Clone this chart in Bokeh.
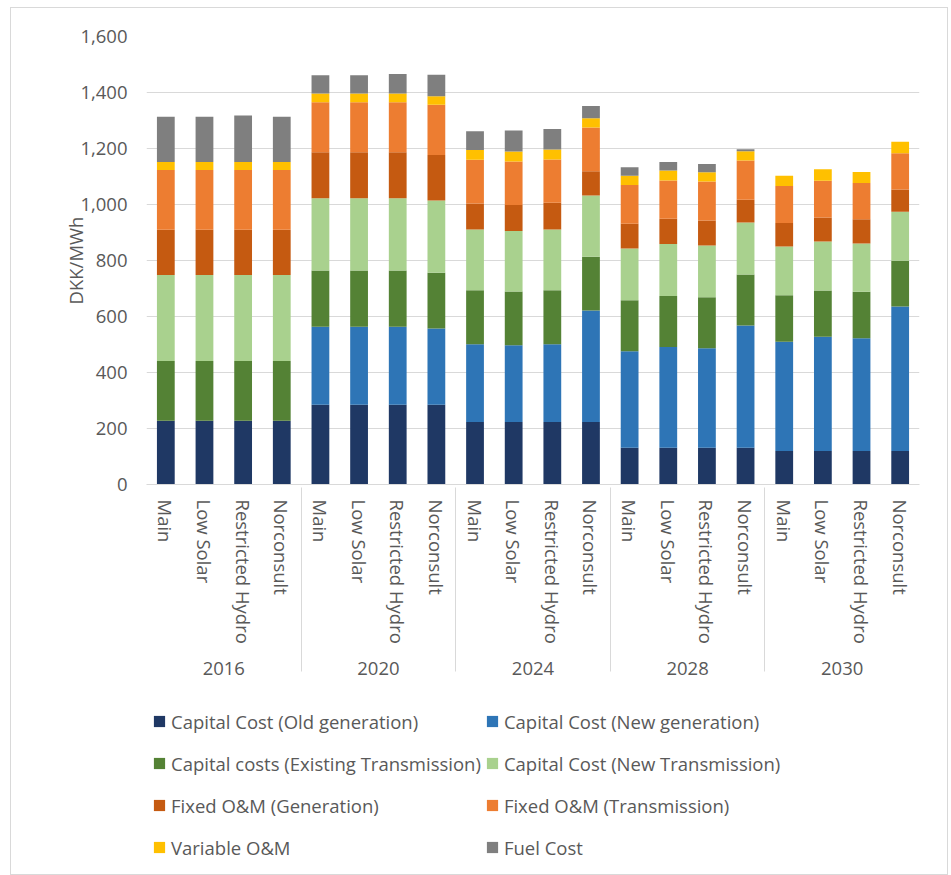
from bokeh.plotting import figure
from bokeh.layouts import column
from bokeh.models import (FactorRange, Range1d, Legend, LegendItem, NumeralTickFormatter,
                          FixedTicker, ColumnDataSource)
from bokeh.embed import file_html
from bokeh.resources import INLINE

years = ["2016", "2020", "2024", "2028", "2030"]
scenarios = ["Main", "Low Solar", "Restricted Hydro", "Norconsult"]

series_names = [
    "Capital Cost (Old generation)",
    "Capital Cost (New generation)",
    "Capital costs (Existing Transmission)",
    "Capital Cost (New Transmission)",
    "Fixed O&M (Generation)",
    "Fixed O&M (Transmission)",
    "Variable O&M",
    "Fuel Cost",
]
series_colors = ["#1F3864", "#2E75B6", "#548235", "#A9D18E",
                 "#C55A11", "#ED7D31", "#FFC000", "#7F7F7F"]

old_gen = [228, 228, 228, 228, 285, 285, 285, 285, 223, 223, 223, 223, 131, 131, 131, 131, 120, 120, 120, 120]
new_gen = [0, 0, 0, 0, 278, 278, 278, 272, 278, 274, 278, 398, 345, 360, 356, 437, 390, 408, 402, 516]
exist_tr = [213, 213, 213, 213, 201, 201, 201, 199, 193, 192, 193, 192, 182, 182, 182, 182, 166, 165, 166, 163]
new_tr = [307, 307, 307, 307, 258, 258, 258, 258, 217, 216, 217, 219, 185, 186, 185, 186, 174, 175, 173, 175]
fom_gen = [162, 162, 162, 162, 165, 165, 165, 163, 93, 93, 95, 87, 88, 90, 89, 81, 84, 86, 86, 80]
fom_tr = [213, 213, 213, 213, 178, 178, 178, 179, 156, 156, 155, 156, 139, 137, 139, 140, 132, 131, 130, 129]
var_om = [29, 29, 29, 29, 31, 31, 31, 31, 35, 35, 35, 33, 33, 35, 33, 33, 37, 41, 39, 41]
fuel = [161, 161, 166, 161, 66, 66, 70, 76, 67, 75, 74, 44, 30, 31, 30, 7, 0, 0, 0, 0]

y_ticks = [0, 200, 400, 600, 800, 1000, 1200, 1400, 1600]

FONT = "Open Sans"
TXT = "#595959"
GRID = "#D9D9D9"
FS = "18.5px"

factors = [(y, s) for y in years for s in scenarios]
keys = ["old_gen", "new_gen", "exist_tr", "new_tr", "fom_gen", "fom_tr", "var_om", "fuel"]
source = ColumnDataSource(data=dict(
    x=factors, old_gen=old_gen, new_gen=new_gen, exist_tr=exist_tr, new_tr=new_tr,
    fom_gen=fom_gen, fom_tr=fom_tr, var_om=var_om, fuel=fuel))

# ---- main chart ----
p = figure(
    x_range=FactorRange(*factors, range_padding=0, group_padding=0, factor_padding=0),
    y_range=Range1d(0, 1600),
    width=914, height=696, frame_width=773, frame_height=448,
    min_border_left=113, min_border_right=28, min_border_top=28, min_border_bottom=220,
    output_backend="svg", toolbar_location=None,
)

p.vbar_stack(keys, x="x", width=0.46, color=series_colors, line_color=None, source=source)

p.outline_line_color = None
p.xgrid.grid_line_color = None
p.ygrid.grid_line_color = GRID
p.ygrid.grid_line_width = 1

yax = p.yaxis[0]
yax.ticker = FixedTicker(ticks=y_ticks)
yax.formatter = NumeralTickFormatter(format="0,0")
yax.axis_line_color = None
yax.major_tick_line_color = None
yax.minor_tick_line_color = None
yax.major_tick_out = 0
yax.major_tick_in = 0
yax.major_label_standoff = 19
yax.major_label_text_font = FONT
yax.major_label_text_font_size = FS
yax.major_label_text_color = TXT
yax.axis_label = "DKK/MWh"
yax.axis_label_text_font = FONT
yax.axis_label_text_font_size = FS
yax.axis_label_text_font_style = "normal"
yax.axis_label_text_color = TXT
yax.axis_label_standoff = -11

xax = p.xaxis[0]
xax.axis_line_color = GRID
xax.major_tick_line_color = None
xax.minor_tick_line_color = None
xax.major_tick_out = 0
xax.major_tick_in = 0
xax.major_label_orientation = "vertical"
xax.major_label_standoff = 15
xax.major_label_text_font = FONT
xax.major_label_text_font_size = FS
xax.major_label_text_color = TXT
xax.group_text_font = FONT
xax.group_text_font_size = FS
xax.group_text_color = TXT
xax.group_text_font_style = "normal"
xax.separator_line_color = GRID
xax.separator_line_width = 1

# ---- legend strip below the chart (its renderers are hidden; only swatches show) ----
q = figure(
    x_range=FactorRange(*factors), y_range=Range1d(0, 1600),
    width=914, height=170, frame_width=773, frame_height=170,
    min_border_left=113, min_border_right=28, min_border_top=0, min_border_bottom=0,
    x_axis_location=None, y_axis_location=None,
    output_backend="svg", toolbar_location=None,
)
q.outline_line_color = None
q.grid.grid_line_color = None
leg_renderers = q.vbar_stack(keys, x="x", width=0.46, color=series_colors, line_color=None,
                             source=source)
for r in leg_renderers:
    r.visible = False

items = [LegendItem(label=n, renderers=[r]) for n, r in zip(series_names, leg_renderers)]
legend = Legend(items=items, location=(6, 8), orientation="horizontal", ncols=2,
                padding=0, margin=0, spacing=4, click_policy="none",
                glyph_width=14, glyph_height=14, label_height=38, label_standoff=5,
                label_text_font=FONT, label_text_font_size=FS, label_text_color=TXT,
                inactive_fill_alpha=0,
                border_line_color=None, background_fill_alpha=0)
q.add_layout(legend, "center")

layout = column(p, q, spacing=0,
                styles={"border": "1px solid #D9D9D9", "margin-left": "10px", "margin-top": "7px",
                        "padding-left": "22px"})

open("out.html", "w").write(file_html(layout, INLINE))
